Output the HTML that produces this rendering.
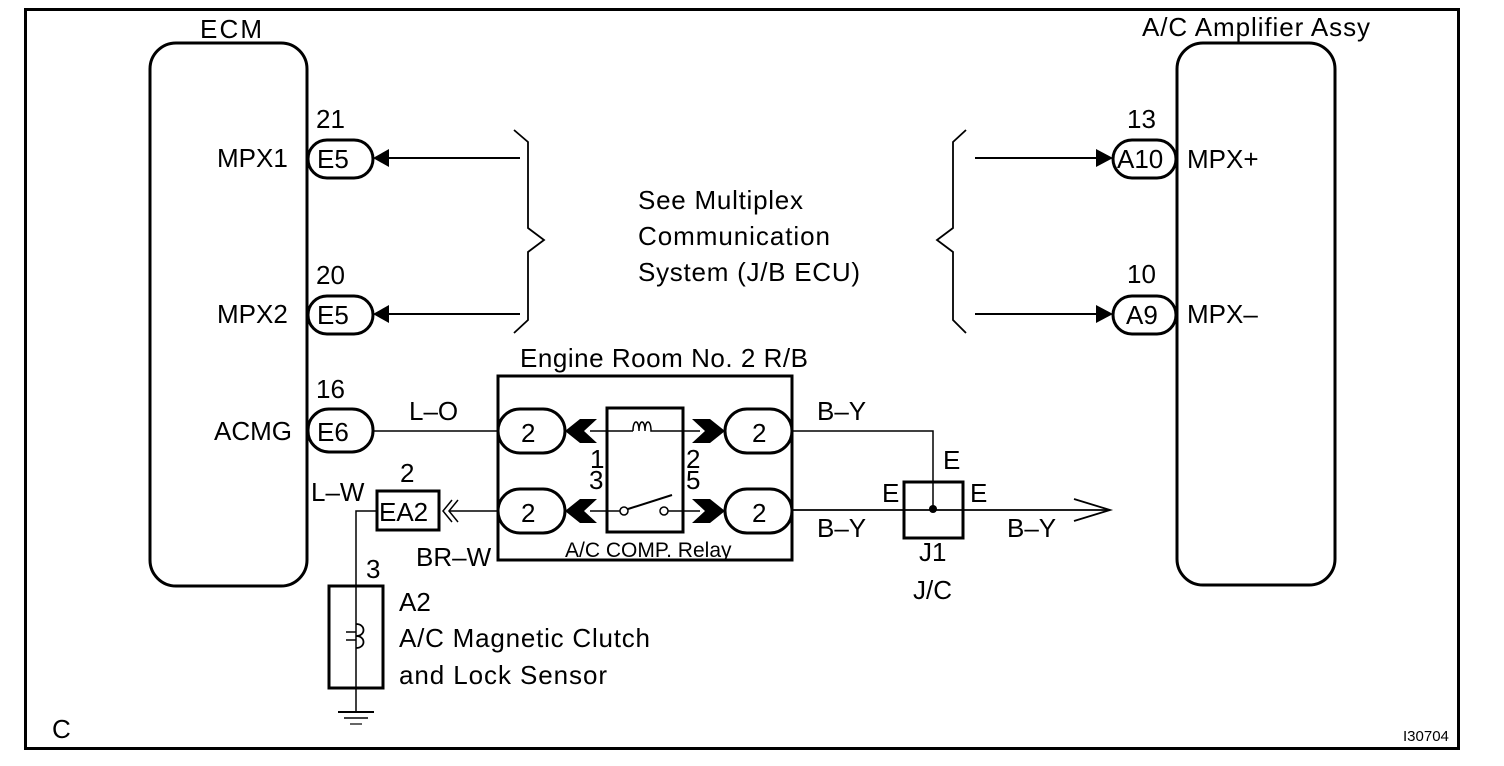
<!DOCTYPE html>
<html><head><meta charset="utf-8"><style>
html,body{margin:0;padding:0;background:#fff;}
svg{display:block;}
text{font-family:"Liberation Sans",Arial,sans-serif;fill:#000;}
</style></head><body>
<svg width="1504" height="766" viewBox="0 0 1504 766" xmlns="http://www.w3.org/2000/svg">
<g fill="none" stroke="#000">
<rect x="25.5" y="9.5" width="1433" height="739" stroke-width="3"/>
<rect x="150" y="43" width="157" height="543" rx="26" stroke-width="3"/>
<rect x="1177" y="43" width="158" height="542" rx="26" stroke-width="3"/>
<rect x="308" y="140" width="65" height="38" rx="19" stroke-width="3"/>
<rect x="308" y="296" width="65" height="38" rx="19" stroke-width="3"/>
<rect x="308" y="409" width="65" height="43" rx="21" stroke-width="3"/>
<line x1="388" y1="158" x2="520" y2="158" stroke-width="2"/>
<line x1="388" y1="314" x2="520" y2="314" stroke-width="2"/>
<line x1="373" y1="431" x2="498" y2="431" stroke-width="1.5"/>
<polyline points="514,130 528,142 528,228 544,240 528,252 528,320 514,333" stroke-width="1.8"/>
<polyline points="966,130 953,142 953,228 937,240 953,252 953,320 966,333" stroke-width="1.8"/>
<rect x="1113" y="140" width="63" height="38" rx="19" stroke-width="3"/>
<rect x="1113" y="296" width="63" height="38" rx="19" stroke-width="3"/>
<line x1="975" y1="158" x2="1096" y2="158" stroke-width="2"/>
<line x1="975" y1="314" x2="1096" y2="314" stroke-width="2"/>
<rect x="498" y="376" width="294" height="184" stroke-width="3"/>
<rect x="498" y="409" width="67" height="44" rx="22" stroke-width="3"/>
<rect x="498" y="489" width="67" height="44" rx="22" stroke-width="3"/>
<rect x="725" y="409" width="67" height="44" rx="22" stroke-width="3"/>
<rect x="725" y="489" width="67" height="44" rx="22" stroke-width="3"/>
<rect x="607" y="408" width="76" height="124" stroke-width="3"/>
<line x1="590" y1="431" x2="633" y2="431" stroke-width="1.5"/>
<path d="M633,431 c0,-12 6,-12 6,0 c0,-12 6,-12 6,0 c0,-12 6,-12 6,0 L700,431" stroke-width="1.5"/>
<line x1="590" y1="511" x2="620" y2="511" stroke-width="1.5"/>
<circle cx="624" cy="511" r="4" stroke-width="1.5"/>
<circle cx="664" cy="511" r="4" stroke-width="1.5"/>
<line x1="628" y1="509" x2="672" y2="495" stroke-width="2"/>
<line x1="668" y1="511" x2="700" y2="511" stroke-width="1.5"/>
<polyline points="792,431 933,431 933,509" stroke-width="1.5"/>
<line x1="792" y1="510" x2="1108" y2="510" stroke-width="1.8"/>
<polyline points="1074,499 1110,510 1074,521" stroke-width="1.8"/>
<rect x="904" y="482" width="59" height="56" stroke-width="3"/>
<rect x="377" y="491" width="62" height="39" stroke-width="3"/>
<polyline points="452,500 443,511 452,522" stroke-width="1.5"/>
<polyline points="458,500 449,511 458,522" stroke-width="1.5"/>
<line x1="449" y1="511" x2="498" y2="511" stroke-width="1.5"/>
<polyline points="377,511 356,511 356,712" stroke-width="1.5"/>
<rect x="329" y="586" width="54" height="102" stroke-width="3"/>
<path d="M356,624 c10,0 10,12 0,12 c10,0 10,12 0,12" stroke-width="1.8"/>
<line x1="346" y1="632" x2="356" y2="632" stroke-width="1.5"/>
<line x1="346" y1="640" x2="356" y2="640" stroke-width="1.5"/>
<line x1="338" y1="712" x2="374" y2="712" stroke-width="2"/>
<line x1="344" y1="718" x2="368" y2="718" stroke-width="1.5"/>
<line x1="350" y1="724" x2="362" y2="724" stroke-width="1.2"/>
</g>
<g fill="#000" stroke="none">
<polygon points="373,158 389,149 389,167"/>
<polygon points="373,314 389,305 389,323"/>
<polygon points="1113,158 1096,149 1096,167"/>
<polygon points="1113,314 1096,305 1096,323"/>
<polygon points="565,431 580,419 597,419 584,431 597,443 580,443"/>
<polygon points="565,511 580,499 597,499 584,511 597,523 580,523"/>
<polygon points="725,431 710,419 692,419 705,431 692,443 710,443"/>
<polygon points="725,511 710,499 692,499 705,511 692,523 710,523"/>
<circle cx="933" cy="509" r="4"/>
</g>
<g font-size="26">
<text x="200" y="38" textLength="62">ECM</text>
<text x="1142" y="36" textLength="228">A/C Amplifier Assy</text>
<text x="217" y="167">MPX1</text>
<text x="217" y="323">MPX2</text>
<text x="214" y="440">ACMG</text>
<text x="316" y="128">21</text>
<text x="316" y="284">20</text>
<text x="316" y="398">16</text>
<text x="317" y="168">E5</text>
<text x="317" y="324">E5</text>
<text x="317" y="441">E6</text>
<text x="1127" y="128">13</text>
<text x="1127" y="283">10</text>
<text x="1117" y="168">A10</text>
<text x="1126" y="324">A9</text>
<text x="1187" y="168">MPX+</text>
<text x="1187" y="323">MPX–</text>
<text x="638" y="209" textLength="165">See Multiplex</text>
<text x="638" y="245" textLength="192">Communication</text>
<text x="638" y="281" textLength="222">System (J/B ECU)</text>
<text x="520" y="367" textLength="288">Engine Room No. 2 R/B</text>
<text x="409" y="420">L–O</text>
<text x="817" y="420">B–Y</text>
<text x="817" y="537">B–Y</text>
<text x="1007" y="537">B–Y</text>
<text x="943" y="469">E</text>
<text x="882" y="502">E</text>
<text x="970" y="502">E</text>
<text x="919" y="561">J1</text>
<text x="913" y="599">J/C</text>
<text x="521" y="442">2</text>
<text x="521" y="522">2</text>
<text x="752" y="442">2</text>
<text x="752" y="522">2</text>
<text x="590" y="468">1</text>
<text x="589" y="489">3</text>
<text x="686" y="468">2</text>
<text x="686" y="489">5</text>
<text x="400" y="482">2</text>
<text x="311" y="501">L–W</text>
<text x="379" y="521">EA2</text>
<text x="416" y="566">BR–W</text>
<text x="366" y="578">3</text>
<text x="399" y="611">A2</text>
<text x="399" y="647" textLength="251">A/C Magnetic Clutch</text>
<text x="399" y="684" textLength="208">and Lock Sensor</text>
<text x="52" y="738">C</text>
</g>
<text x="565" y="557" font-size="21">A/C COMP. Relay</text>
<text x="1403" y="741" font-size="15">I30704</text>
</svg>
</body></html>
